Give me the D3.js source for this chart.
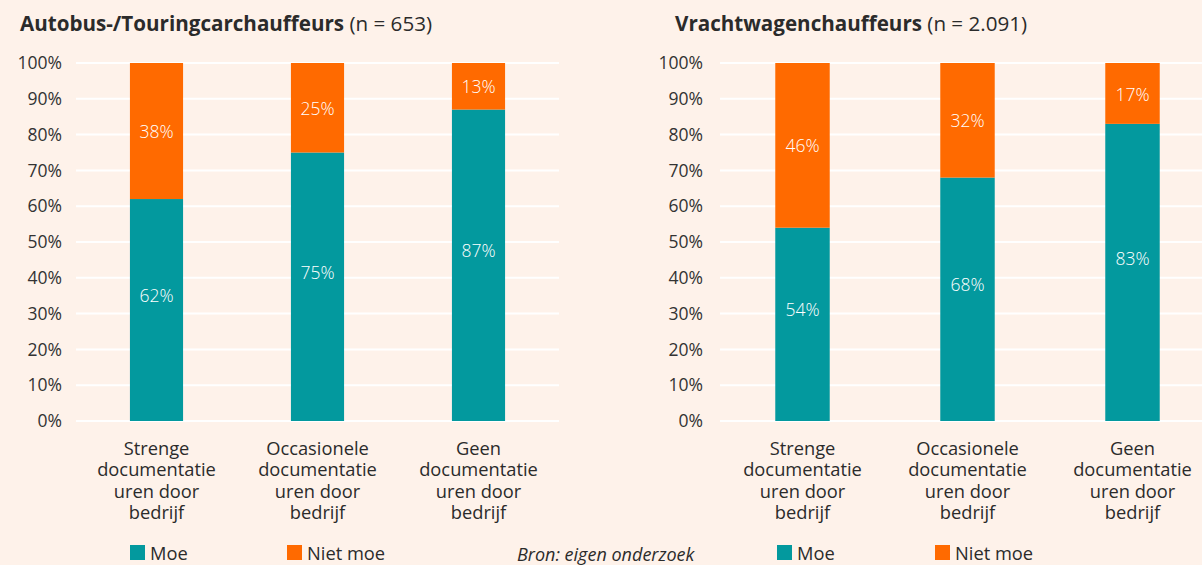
<!DOCTYPE html>
<html>
<head>
<meta charset="utf-8">
<script src="https://cdn.jsdelivr.net/npm/d3@7"></script>
<style>
  html, body { margin: 0; padding: 0; background: #fef2ea; overflow: hidden; }
  svg { display: block; font-family: "Open Sans", sans-serif; }
</style>
</head>
<body>
<div id="chart"></div>
<script>
(function () {
    // data
    var categories = [
        ["Strenge", "documentatie", "uren door", "bedrijf"],
        ["Occasionele", "documentatie", "uren door", "bedrijf"],
        ["Geen", "documentatie", "uren door", "bedrijf"]
    ];
    var busMoe = [62, 75, 87];
    var busNietMoe = [38, 25, 13];
    var truckMoe = [54, 68, 83];
    var truckNietMoe = [46, 32, 17];
    var yTicks = [0, 10, 20, 30, 40, 50, 60, 70, 80, 90, 100];
    var seriesNames = ["Moe", "Niet moe"];

    const width = 1202;
    const height = 565;
    const top_y = 63;
    const bottom_y = 421;
    const colors = { "Moe": "#03999e", "Niet moe": "#ff6a00" };

    var svg = d3.select('#chart').append('svg')
        .attr('width', width)
        .attr('height', height);

    svg.append('rect')
        .attr('width', width)
        .attr('height', height)
        .attr('fill', '#fef2ea');

    var y_scale = d3.scaleLinear()
        .domain([0, 100])
        .range([bottom_y, top_y]);

    var panels = [
        { title: "Autobus-/Touringcarchauffeurs", n: " (n = 653)", titleX: 20,
          x0: 76, x1: 559, tickX: 62, moe: busMoe, niet: busNietMoe,
          legendX: [130, 287] },
        { title: "Vrachtwagenchauffeurs", n: " (n = 2.091)", titleX: 675,
          x0: 720, x1: 1215, tickX: 703, moe: truckMoe, niet: truckNietMoe,
          legendX: [777, 935] }
    ];

    panels.forEach(function (p) {
        var g = svg.append('g');

        // title
        var title = g.append('text')
            .attr('x', p.titleX)
            .attr('y', 31)
            .attr('font-size', 20.6)
            .attr('fill', '#2b2b2b');
        title.append('tspan').attr('font-weight', 'bold').text(p.title);
        title.append('tspan').text(p.n);

        var x_scale = d3.scaleBand()
            .domain(d3.range(categories.length))
            .range([p.x0, p.x1])
            .paddingInner(0.67)
            .paddingOuter(0.335);

        // gridlines
        g.selectAll('.grid').data(yTicks)
            .enter().append('line')
            .attr('x1', p.x0)
            .attr('x2', Math.min(p.x1, width))
            .attr('y1', function (d) { return y_scale(d); })
            .attr('y2', function (d) { return y_scale(d); })
            .attr('stroke', '#ffffff')
            .attr('stroke-width', 2);

        // y tick labels
        g.selectAll('.ytick').data(yTicks)
            .enter().append('text')
            .attr('x', p.tickX)
            .attr('y', function (d) { return y_scale(d); })
            .attr('dy', '0.35em')
            .attr('text-anchor', 'end')
            .attr('font-size', 17.5)
            .attr('fill', '#333')
            .text(function (d) { return d + '%'; });

        // stacked bars
        var rows = p.moe.map(function (v, i) {
            return { i: i, moe: v, niet: p.niet[i] };
        });

        g.selectAll('.moe').data(rows)
            .enter().append('rect')
            .attr('x', function (d) { return x_scale(d.i); })
            .attr('width', x_scale.bandwidth())
            .attr('y', function (d) { return y_scale(d.moe); })
            .attr('height', function (d) { return y_scale(0) - y_scale(d.moe); })
            .attr('fill', colors["Moe"]);

        g.selectAll('.niet').data(rows)
            .enter().append('rect')
            .attr('x', function (d) { return x_scale(d.i); })
            .attr('width', x_scale.bandwidth())
            .attr('y', function (d) { return y_scale(d.moe + d.niet); })
            .attr('height', function (d) { return y_scale(d.moe) - y_scale(d.moe + d.niet); })
            .attr('fill', colors["Niet moe"]);

        // value labels
        g.selectAll('.moe-label').data(rows)
            .enter().append('text')
            .attr('x', function (d) { return x_scale(d.i) + x_scale.bandwidth() / 2; })
            .attr('y', function (d) { return y_scale(d.moe / 2) - 14; })
            .attr('dy', '0.35em')
            .attr('text-anchor', 'middle')
            .attr('font-size', 17.5)
            .attr('font-weight', 300)
            .attr('fill', '#ffffff')
            .text(function (d) { return d.moe + '%'; });

        g.selectAll('.niet-label').data(rows)
            .enter().append('text')
            .attr('x', function (d) { return x_scale(d.i) + x_scale.bandwidth() / 2; })
            .attr('y', function (d) { return y_scale(d.moe + d.niet / 2) + 1; })
            .attr('dy', '0.35em')
            .attr('text-anchor', 'middle')
            .attr('font-size', 17.5)
            .attr('font-weight', 300)
            .attr('fill', '#ffffff')
            .text(function (d) { return d.niet + '%'; });

        // category labels
        categories.forEach(function (lines, i) {
            var t = g.append('text')
                .attr('text-anchor', 'middle')
                .attr('font-size', 18.3)
                .attr('fill', '#2b2b2b');
            lines.forEach(function (line, j) {
                t.append('tspan')
                    .attr('x', x_scale(i) + x_scale.bandwidth() / 2)
                    .attr('y', 455 + j * 21.3)
                    .text(line);
            });
        });

        // legend
        seriesNames.forEach(function (name, i) {
            g.append('rect')
                .attr('x', p.legendX[i])
                .attr('y', 545)
                .attr('width', 15)
                .attr('height', 15)
                .attr('fill', colors[name]);
            g.append('text')
                .attr('x', p.legendX[i] + 20)
                .attr('y', 560)
                .attr('font-size', 18.3)
                .attr('fill', '#2b2b2b')
                .text(name);
        });
    });

    // source
    svg.append('text')
        .attr('x', 517)
        .attr('y', 561)
        .attr('font-size', 18)
        .attr('font-style', 'italic')
        .attr('fill', '#2b2b2b')
        .text('Bron: eigen onderzoek');
})();
</script>
</body>
</html>
